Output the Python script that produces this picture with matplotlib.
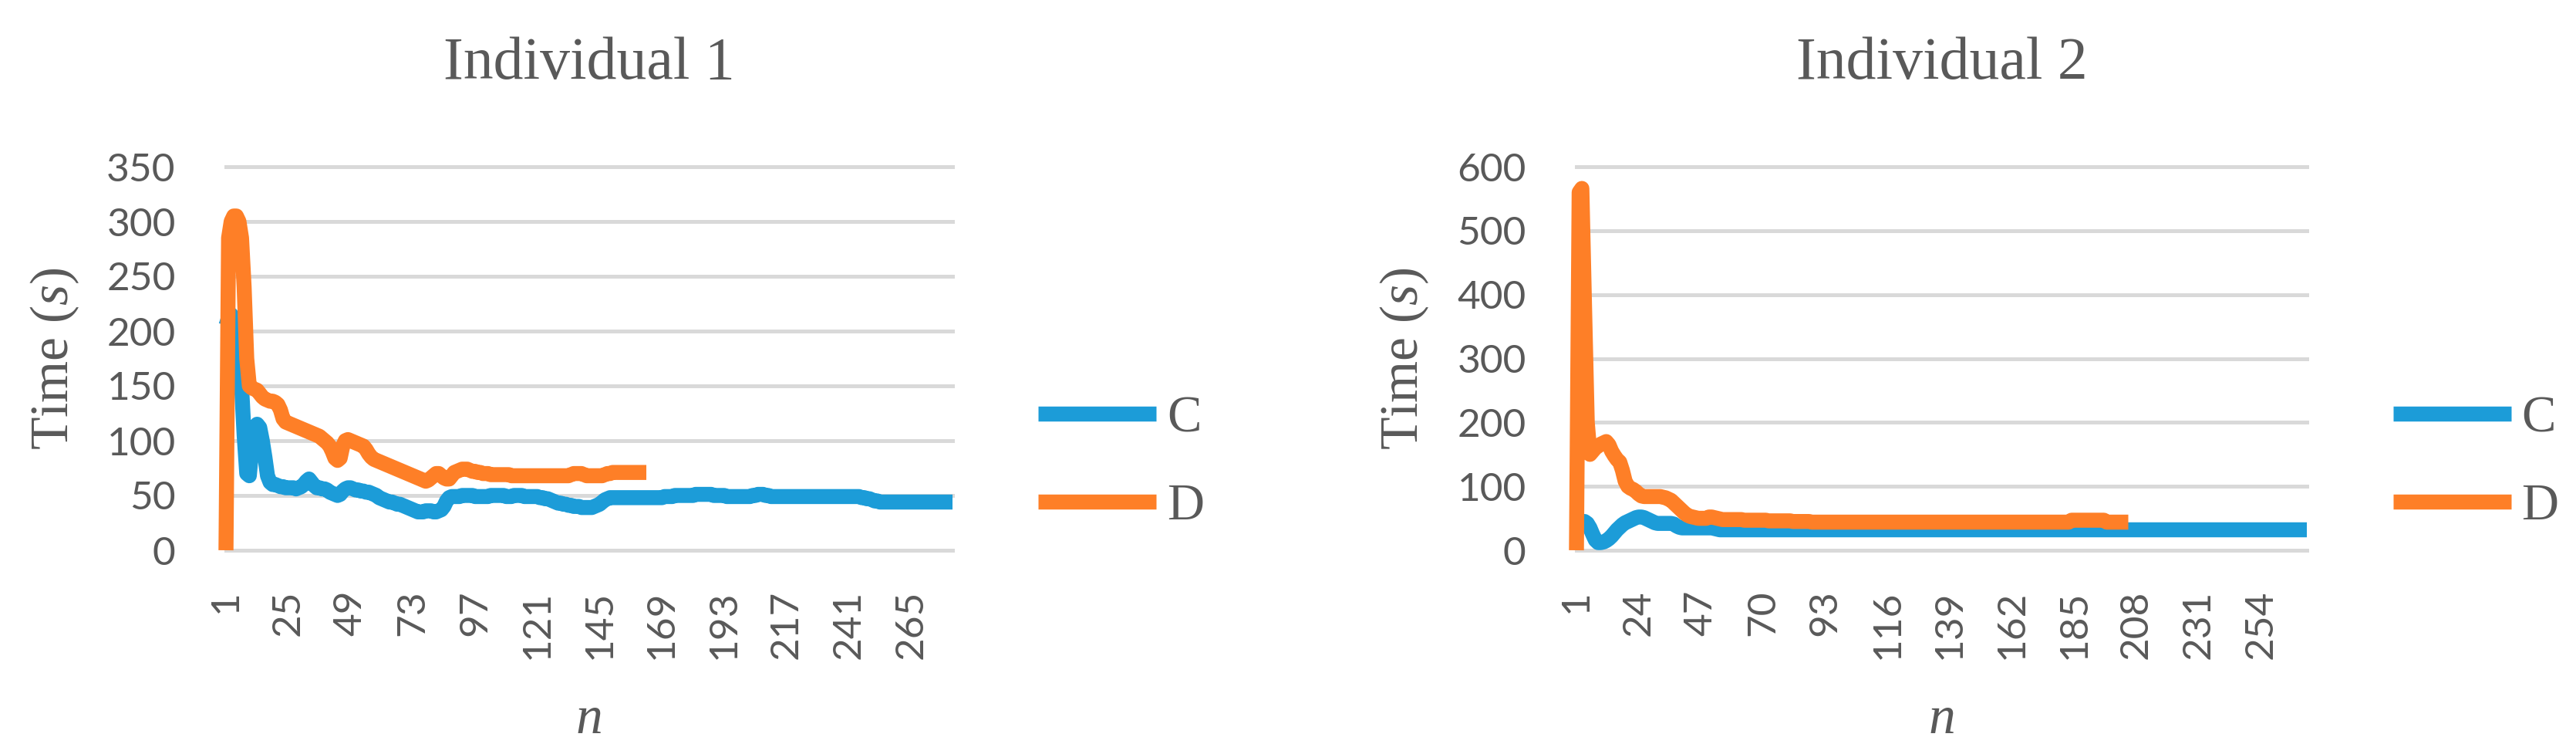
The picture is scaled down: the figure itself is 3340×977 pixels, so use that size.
import matplotlib
matplotlib.use("Agg")
import matplotlib.pyplot as plt

# ---------------- data ----------------
titles = ["Individual 1", "Individual 2"]
series_names = ["C", "D"]

ind1_C = [
    205, 212, 215, 210, 205, 195, 150, 105, 70, 68,
    95, 108, 115, 112, 100, 85, 68, 62, 60, 60,
    59, 58, 58, 57, 57, 57, 57, 56, 57, 58,
    60, 63, 65, 62, 59, 57, 57, 56, 56, 55,
    53, 52, 51, 50, 51, 54, 56, 57, 57, 56,
    55, 55, 54, 54, 53, 53, 52, 51, 50, 48,
    47, 46, 45, 44, 44, 43, 42, 42, 41, 40,
    39, 38, 37, 36, 35, 35, 35, 36, 36, 36,
    35, 35, 36, 37, 40, 45, 48, 49, 49, 49,
    49, 50, 50, 50, 50, 50, 49, 49, 49, 49,
    49, 49, 50, 50, 50, 50, 50, 50, 49, 49,
    49, 50, 50, 50, 50, 49, 49, 49, 49, 49,
    49, 48, 48, 47, 47, 46, 45, 44, 43, 43,
    42, 42, 41, 41, 40, 40, 40, 39, 39, 39,
    39, 39, 40, 41, 42, 44, 46, 47, 48, 48,
    48, 48, 48, 48, 48, 48, 48, 48, 48, 48,
    48, 48, 48, 48, 48, 48, 48, 48, 48, 49,
    49, 49, 49, 50, 50, 50, 50, 50, 50, 50,
    50, 51, 51, 51, 51, 51, 51, 51, 50, 50,
    50, 50, 50, 49, 49, 49, 49, 49, 49, 49,
    49, 49, 49, 50, 50, 51, 51, 51, 50, 50,
    49, 49, 49, 49, 49, 49, 49, 49, 49, 49,
    49, 49, 49, 49, 49, 49, 49, 49, 49, 49,
    49, 49, 49, 49, 49, 49, 49, 49, 49, 49,
    49, 49, 49, 49, 49, 48, 48, 47, 47, 46,
    45, 45, 44, 44, 44, 44, 44, 44, 44, 44,
    44, 44, 44, 44, 44, 44, 44, 44, 44, 44,
    44, 44, 44, 44, 44, 44, 44, 44, 44, 44, 44,
]

ind1_D = [
    0, 285, 300, 305, 305, 300, 285, 240, 175, 150,
    148, 147, 146, 143, 140, 138, 137, 136, 136, 135,
    133, 128, 120, 117, 116, 115, 114, 113, 112, 111,
    110, 109, 108, 107, 106, 105, 104, 102, 100, 98,
    95, 90, 84, 82, 84, 95, 100, 101, 100, 99,
    98, 97, 96, 95, 92, 88, 85, 83, 82, 81,
    80, 79, 78, 77, 76, 75, 74, 73, 72, 71,
    70, 69, 68, 67, 66, 65, 64, 63, 64, 66,
    68, 70, 70, 68, 66, 65, 65, 68, 71, 72,
    73, 74, 74, 74, 73, 72, 72, 71, 71, 70,
    70, 70, 69, 69, 69, 69, 69, 69, 69, 69,
    68, 68, 68, 68, 68, 68, 68, 68, 68, 68,
    68, 68, 68, 68, 68, 68, 68, 68, 68, 68,
    68, 68, 68, 69, 70, 70, 70, 70, 69, 68,
    68, 68, 68, 68, 68, 68, 69, 70, 70, 71,
    71, 71, 71, 71, 71, 71, 71, 71, 71, 71,
    71, 71, 71,
]

ind2_C = [
    40, 42, 44, 45, 42, 35, 25, 16, 12, 12,
    13, 15, 18, 22, 27, 32, 36, 40, 43, 45,
    47, 49, 51, 52, 52, 51, 49, 47, 45, 43,
    42, 42, 42, 42, 42, 42, 41, 38, 36, 35,
    35, 35, 35, 35, 35, 35, 35, 35, 35, 35,
    35, 34, 33, 32, 32, 32, 32, 32, 32, 32,
    32, 32, 32, 32, 32, 32, 32, 32, 32, 32, 32, 32, 32, 32, 32, 32, 32, 32, 32, 32,
    32, 32, 32, 32, 32, 32, 32, 32, 32, 32, 32, 32, 32, 32, 32, 32, 32, 32, 32, 32,
    32, 32, 32, 32, 32, 32, 32, 32, 32, 32, 32, 32, 32, 32, 32, 32, 32, 32, 32, 32,
    32, 32, 32, 32, 32, 32, 32, 32, 32, 32, 32, 32, 32, 32, 32, 32, 32, 32, 32, 32,
    32, 32, 32, 32, 32, 32, 32, 32, 32, 32, 32, 32, 32, 32, 32, 32, 32, 32, 32, 32,
    32, 32, 32, 32, 32, 32, 32, 32, 32, 32, 32, 32, 32, 32, 32, 32, 32, 32, 32, 32,
    32, 32, 32, 32, 32, 32, 32, 32, 32, 32, 32, 32, 32, 32, 32, 32, 32, 32, 32, 32,
    32, 32, 32, 32, 32, 32, 32, 32, 32, 32, 32, 32, 32, 32, 32, 32, 32, 32, 32, 32,
    32, 32, 32, 32, 32, 32, 32, 32, 32, 32, 32, 32, 32, 32, 32, 32, 32, 32, 32, 32,
    32, 32, 32, 32, 32, 32, 32, 32, 32, 32, 32, 32, 32, 32, 32, 32, 32, 32, 32, 32,
    32, 32, 32, 32, 32, 32, 32, 32, 32, 32, 32,
]

ind2_D = [
    0, 560, 566, 380, 200, 150, 155, 160, 163, 166,
    168, 170, 165, 155, 148, 142, 138, 125, 108, 100,
    97, 95, 92, 88, 85, 84, 84, 84, 84, 84,
    84, 84, 83, 82, 80, 78, 74, 70, 66, 62,
    58, 55, 53, 52, 51, 50, 50, 50, 50, 52,
    52, 51, 50, 49, 48, 48, 48, 48, 48, 48,
    48, 48, 47, 47, 47, 47, 47, 47, 47, 47,
    47, 46, 46, 46, 46, 46, 46, 46, 46, 46,
    45, 45, 45, 45, 45, 45, 45, 44, 44, 44,
    44, 44, 44, 44, 44, 44, 44, 44, 44, 44,
    44, 44, 44, 44, 44, 44, 44, 44, 44, 44,
    44, 44, 44, 44, 44, 44, 44, 44, 44, 44,
    44, 44, 44, 44, 44, 44, 44, 44, 44, 44,
    44, 44, 44, 44, 44, 44, 44, 44, 44, 44,
    44, 44, 44, 44, 44, 44, 44, 44, 44, 44,
    44, 44, 44, 44, 44, 44, 44, 44, 44, 44,
    44, 44, 44, 44, 44, 44, 44, 44, 44, 44,
    44, 44, 44, 44, 44, 44, 44, 44, 44, 44,
    44, 44, 44, 47, 47, 47, 47, 47, 47, 47,
    47, 47, 47, 47, 47, 47, 44, 44, 44, 44,
    44, 44, 44, 44, 44,
]

y_ticks_1 = [0, 50, 100, 150, 200, 250, 300, 350]
y_ticks_2 = [0, 100, 200, 300, 400, 500, 600]
x_step_1 = 24
x_step_2 = 23

# ---------------- style ----------------
plt.rcParams["mathtext.fontset"] = "custom"
plt.rcParams["mathtext.rm"] = "Liberation Serif"
plt.rcParams["mathtext.it"] = "Liberation Serif:italic"

BLUE = "#1C9CD8"
ORANGE = "#FE7F27"
GRID = "#D9D9D9"
TXT = "#595959"
SERIF = "Liberation Serif"
SANS = "Lato"

fig = plt.figure(figsize=(33.41, 9.77), dpi=100)

panels = [
    dict(title=titles[0], C=ind1_C, D=ind1_D, yt=y_ticks_1, step=x_step_1,
         rect=[293 / 3341, 1 - 713 / 977, 942 / 3341, 497 / 977]),
    dict(title=titles[1], C=ind2_C, D=ind2_D, yt=y_ticks_2, step=x_step_2,
         rect=[2044 / 3341, 1 - 713 / 977, 947 / 3341, 497 / 977]),
]

for p in panels:
    ax = fig.add_axes(p["rect"])
    nC = list(range(1, len(p["C"]) + 1))
    nD = list(range(1, len(p["D"]) + 1))
    ax.set_xlim(1, len(p["C"]))
    ax.set_ylim(p["yt"][0], p["yt"][-1])
    for yv in p["yt"]:
        ax.axhline(yv, color=GRID, lw=3.6, zorder=0, clip_on=False)
    lc, = ax.plot(nC, p["C"], color=BLUE, lw=14, solid_joinstyle="round",
                  solid_capstyle="butt", clip_on=False, zorder=2, label=series_names[0])
    ld, = ax.plot(nD, p["D"], color=ORANGE, lw=14, solid_joinstyle="round",
                  solid_capstyle="butt", clip_on=False, zorder=3, label=series_names[1])
    for s in ax.spines.values():
        s.set_visible(False)
    ax.set_yticks(p["yt"])
    ax.set_yticklabels([str(v) for v in p["yt"]], fontsize=37, color=TXT, family=SANS)
    xt = list(range(1, len(p["C"]) + 1, p["step"]))
    ax.set_xticks(xt)
    ax.set_xticklabels([str(v) for v in xt], fontsize=37, color=TXT, family=SANS,
                       rotation=90)
    ax.tick_params(axis="both", length=0)
    ax.tick_params(axis="y", pad=47)
    ax.tick_params(axis="x", pad=37)
    ax.set_ylabel("Time ($\\mathit{s}$)", fontsize=50, color=TXT, family=SERIF)
    ax.yaxis.set_label_coords(-0.2, 0.5)
    ax.set_xlabel("n", fontsize=50, color=TXT, family=SERIF, style="italic")
    ax.xaxis.set_label_coords(0.5, -0.443)
    ax.xaxis.label.set_va("center")
    ax.set_title(p["title"], fontsize=56, color=TXT, family=SERIF, y=1.25, va="center")
    leg = ax.legend(handles=[lc, ld], loc="center left", bbox_to_anchor=(1.118, 0.228),
                    frameon=False, borderpad=0, borderaxespad=0, handlelength=2.3,
                    handletextpad=0.2, labelspacing=0.8,
                    prop={"family": SERIF, "size": 48})
    for t in leg.get_texts():
        t.set_color(TXT)

fig.savefig("out.png", dpi=100, facecolor="white")
